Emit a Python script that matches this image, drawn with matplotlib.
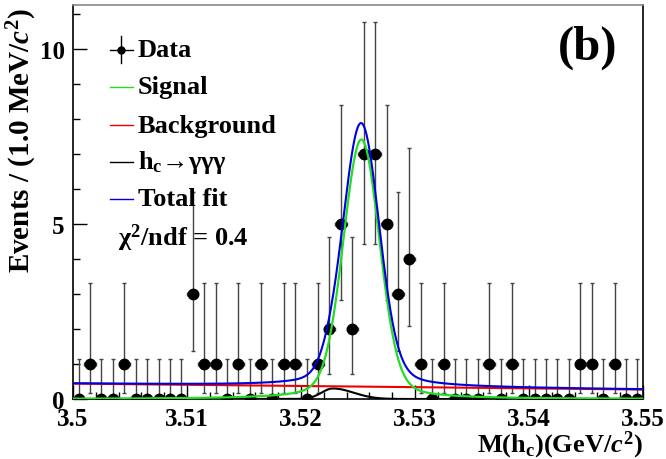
import matplotlib
matplotlib.use("Agg")
import matplotlib.pyplot as plt
import numpy as np

plt.rcParams["font.family"] = ["Liberation Serif", "DejaVu Serif"]
plt.rcParams["font.weight"] = "bold"
plt.rcParams["axes.labelweight"] = "bold"
plt.rcParams["mathtext.fontset"] = "custom"
plt.rcParams["mathtext.rm"] = "Liberation Serif:bold"
plt.rcParams["mathtext.it"] = "Liberation Serif:italic:bold"
plt.rcParams["mathtext.bf"] = "Liberation Serif:bold"

# ── Data: 1 MeV bins from 3.50 to 3.55 GeV ─────────────────────────────
bin_width = 0.001
bin_centers = 3.5005 + bin_width * np.arange(50)
counts = [0, 1, 0, 0, 1, 0, 0, 0, 0, 0,
          3, 1, 1, 0, 1, 0, 1, 0, 1, 1,
          0, 1, 2, 5, 2, 7, 7, 5, 3, 4,
          1, 0, 1, 0, 0, 0, 1, 0, 1, 0,
          0, 0, 0, 0, 1, 1, 0, 1, 0, 0]

# Poisson (68%) error bars, indexed by count
poisson_lo = [0.0, 0.827, 1.291, 1.633, 1.914, 2.159, 2.380, 2.581]
poisson_hi = [1.148, 2.299, 2.637, 2.918, 3.162, 3.382, 3.584, 3.770]

# ── Fit components (parameters) ────────────────────────────────────────
sig_mass, sig_peak = 3.5253, 7.41
sig_sigma, sig_gamma, sig_tailfrac = 0.00155, 0.0025, 0.15
bkg_left, bkg_right = 0.44, 0.27
peak3g_mass, peak3g_height = 3.5228, 0.30
peak3g_sigma_l, peak3g_sigma_r = 0.0010, 0.0018

xs = np.linspace(3.5, 3.55, 1201)
dx = xs - sig_mass
signal = sig_peak * ((1 - sig_tailfrac) * np.exp(-dx**2 / (2 * sig_sigma**2))
                     + sig_tailfrac / (1 + (dx / sig_gamma)**2))
background = bkg_left + (bkg_right - bkg_left) * (xs - 3.5) / 0.05
d3 = xs - peak3g_mass
s3 = np.where(d3 < 0, peak3g_sigma_l, peak3g_sigma_r)
hc3g = peak3g_height * np.exp(-d3**2 / (2 * s3**2))
total = signal + background + hc3g

fig = plt.figure(figsize=(6.66, 4.6), dpi=100)
ax = fig.add_axes([73 / 666, 60 / 460, 570 / 666, 394 / 460])

counts = np.array(counts)
yerr = [np.array(poisson_lo)[counts], np.array(poisson_hi)[counts]]
ax.errorbar(bin_centers, counts, yerr=yerr, xerr=bin_width / 2, fmt="o",
            color="black", ecolor="#444444", elinewidth=1.0, capsize=1.6,
            markersize=7.5, zorder=3)

ax.plot(xs, hc3g, color="black", lw=1.5, zorder=4)
ax.plot(xs, background, color="#ee0000", lw=1.5, zorder=4)
ax.plot(xs, signal, color="#22dd22", lw=1.6, zorder=4)
ax.plot(xs, total, color="#0000dd", lw=1.5, zorder=4)

ax.set_xlim(3.5, 3.55)
ax.set_ylim(0, 11.25)
ax.set_xticks([3.5, 3.51, 3.52, 3.53, 3.54, 3.55])
ax.set_xticklabels(["3.5", "3.51", "3.52", "3.53", "3.54", "3.55"])
ax.set_xticks(np.arange(3.5, 3.5501, 0.002), minor=True)
ax.set_yticks([0, 5, 10])
ax.set_yticks(np.arange(0, 11.5, 1), minor=True)
ax.tick_params(which="both", direction="in", top=False, right=False,
               labelsize=18, width=1.0)
ax.tick_params(which="major", length=10)
ax.tick_params(which="minor", length=5)
ax.tick_params(axis="x", pad=6)
ax.tick_params(axis="y", pad=6)
for sp in ax.spines.values():
    sp.set_linewidth(1.2)
ax.spines["top"].set_color("#888888")

ax.set_ylabel("Events / (1.0 MeV/$c^{2}$)", fontsize=21, loc="top")
ax.yaxis.set_label_coords(-0.059, 0.995)
ax.set_xlabel("M(h$_{\\mathrm{c}}$)(GeV/$c^{2}$)", fontsize=19, loc="right")
ax.xaxis.set_label_coords(1.0, -0.075)

# ── Legend drawn by hand, ROOT style ───────────────────────────────────
tr = ax.transAxes
hx0, hx1, tx = 0.065, 0.105, 0.114
rows = [0.887, 0.792, 0.695, 0.602, 0.508]
labels = ["Data", "Signal", "Background", "h$_{\\mathrm{c}}$→γγγ", "Total fit"]
colors = [None, "#22dd22", "#ee0000", "black", "#0000dd"]
for y, lab, col in zip(rows, labels, colors):
    if col is None:
        ax.plot([hx0, hx1], [y, y], color="black", lw=1.0, transform=tr)
        ax.plot([(hx0 + hx1) / 2] * 2, [y - 0.035, y + 0.035], color="black",
                lw=1.0, transform=tr)
        ax.plot([(hx0 + hx1) / 2], [y], "o", color="black", markersize=5,
                transform=tr)
    else:
        ax.plot([hx0, hx1], [y, y], color=col, lw=1.0, transform=tr)
    ax.text(tx, y, lab, fontsize=19, va="center", ha="left", transform=tr)

ax.text(0.079, 0.411, "χ$^{2}$/ndf = 0.4", fontsize=19, va="center",
        ha="left", transform=tr)
ax.text(0.903, 0.893, "(b)", fontsize=35, va="center", ha="center",
        transform=tr)

fig.savefig("out.png", dpi=100, facecolor="white")
